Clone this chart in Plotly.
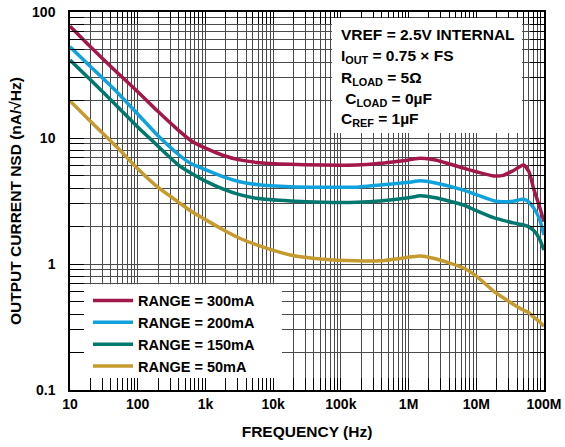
import plotly.graph_objects as go

# ---- data ----
freq = [10, 20, 50, 100, 200, 400, 600, 1e3, 1.8e3, 3.2e3, 5.7e3, 1.8e4, 5.5e4, 1.7e5,
        3.8e5, 1e6, 1.5e6, 2.5e6, 6.5e6, 1e7, 1.8e7, 2.5e7, 3.5e7, 5e7, 6e7, 7e7, 8.5e7, 1e8]
nsd_300mA = [77, 53, 33, 23.3, 16.2, 11.5, 9.6, 8.3, 7.3, 6.7, 6.4, 6.18, 6.1, 6.1,
             6.3, 6.7, 6.9, 6.7, 5.76, 5.4, 5.0, 5.05, 5.5, 6.1, 5.4, 4.0, 2.9, 2.17]
nsd_200mA = [53, 37, 23, 15.5, 10.4, 7.4, 6.3, 5.6, 4.93, 4.5, 4.28, 4.11, 4.07, 4.07,
             4.24, 4.45, 4.58, 4.4, 3.86, 3.55, 3.18, 3.12, 3.15, 3.26, 3.1, 2.8, 2.3, 1.7]
nsd_150mA = [41.6, 29, 17.8, 12.2, 8.6, 6.1, 5.3, 4.55, 3.95, 3.55, 3.32, 3.16, 3.09, 3.09,
             3.16, 3.35, 3.48, 3.35, 2.94, 2.65, 2.33, 2.22, 2.12, 2.04, 1.97, 1.85, 1.6, 1.29]
nsd_50mA = [19.7, 13.6, 8.4, 5.7, 4.05, 3.1, 2.65, 2.25, 1.88, 1.6, 1.42, 1.18, 1.09, 1.06,
            1.06, 1.13, 1.16, 1.1, 0.93, 0.8, 0.61, 0.54, 0.48, 0.43, 0.41, 0.38, 0.35, 0.32]

series_names = ["RANGE = 300mA", "RANGE = 200mA", "RANGE = 150mA", "RANGE = 50mA"]
series_values = [nsd_300mA, nsd_200mA, nsd_150mA, nsd_50mA]
series_colors = ["#A3174B", "#10A2DC", "#00786E", "#C59A2E"]

x_major = [10, 100, 1e3, 1e4, 1e5, 1e6, 1e7, 1e8]
x_major_labels = ["10", "100", "1k", "10k", "100k", "1M", "10M", "100M"]
y_major = [0.1, 1, 10, 100]
y_major_labels = ["0.1", "1", "10", "100"]

condition_lines = [
    "VREF = 2.5V INTERNAL",
    "I<sub>OUT</sub> = 0.75 × FS",
    "R<sub>LOAD</sub> = 5Ω",
    " C<sub>LOAD</sub> = 0µF",
    "C<sub>REF</sub> = 1µF",
]


def log_ticks(majors, labels):
    vals, texts = [], []
    for i, m in enumerate(majors):
        vals.append(m)
        texts.append(labels[i])
        if i < len(majors) - 1:
            for k in range(2, 10):
                vals.append(m * k)
                texts.append("")
    return vals, texts


xt_vals, xt_text = log_ticks(x_major, x_major_labels)
yt_vals, yt_text = log_ticks(y_major, y_major_labels)

FONT = "Liberation Sans, Arial, Helvetica, sans-serif"

fig = go.Figure()
for name, vals, col in zip(series_names, series_values, series_colors):
    fig.add_trace(go.Scatter(
        x=freq, y=vals, name=name, mode="lines",
        line=dict(color=col, width=3.5, shape="spline", smoothing=0.6),
    ))

axis_common = dict(
    type="log", showgrid=True, gridcolor="#4a4a4a", gridwidth=1,
    ticks="inside", tickcolor="black", tickwidth=1,
    showline=True, linecolor="black", linewidth=1.5, mirror="ticks",
    tickfont=dict(family=FONT, size=14, color="black", weight="bold"),
    zeroline=False, automargin=False,
)

fig.update_layout(
    width=565, height=447,
    margin=dict(l=70, r=21, t=12, b=57, pad=0),
    paper_bgcolor="white", plot_bgcolor="white",
    font=dict(family=FONT, color="black"),
    xaxis=dict(axis_common, range=[1, 8], tickvals=xt_vals, ticktext=xt_text, ticklen=12,
               title=dict(text="FREQUENCY (Hz)", standoff=16,
                          font=dict(family=FONT, size=15.5, color="black", weight="bold"))),
    yaxis=dict(axis_common, range=[-1, 2], tickvals=yt_vals, ticktext=yt_text, ticklen=14,
               ticklabelstandoff=10,
               title=dict(text="OUTPUT CURRENT NSD (nA/√Hz)", standoff=7,
                          font=dict(family=FONT, size=15.5, color="black", weight="bold"))),
    legend=dict(
        x=0.038, y=0.279, xanchor="left", yanchor="top",
        bgcolor="rgba(0,0,0,0)", borderwidth=0,
        font=dict(family=FONT, size=14.5, color="black", weight="bold"),
        itemwidth=40,
    ),
    showlegend=True,
)

# white panel behind legend (covers grid, keeps ticks) - data coords on log axes
fig.add_shape(type="rect", xref="x", yref="y", x0=10, x1=13500, y0=0.1, y1=0.69,
              fillcolor="white", line=dict(width=0), layer="between")
# white panel for the condition text
fig.add_shape(type="rect", xref="paper", yref="paper", x0=0.5527, x1=0.9536, y0=0.6799, y1=0.9841,
              fillcolor="white", line=dict(width=0), layer="above")

line_y = [0.9392, 0.8818, 0.8246, 0.7690, 0.7143]
for txt, yy in zip(condition_lines, line_y):
    fig.add_annotation(text=txt, xref="paper", yref="paper", x=0.5675, y=yy,
                       xanchor="left", yanchor="middle", showarrow=False,
                       font=dict(family=FONT, size=15.5, color="black", weight="bold"))

fig.write_html("out.html", config={"displayModeBar": False},
               post_script="document.body.style.margin='0px';")
